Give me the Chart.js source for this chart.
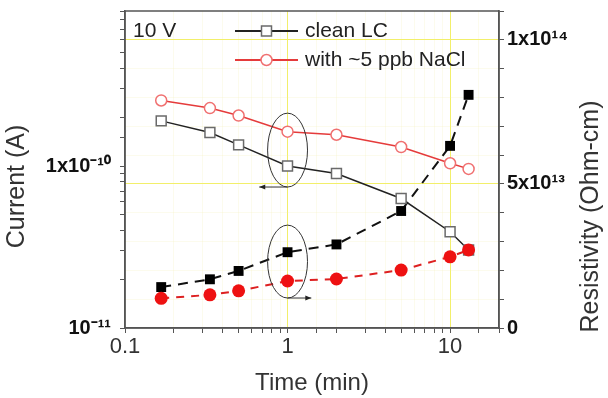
<!DOCTYPE html>
<html>
<head>
<meta charset="utf-8">
<script src="https://cdn.jsdelivr.net/npm/chart.js@4.4.1/dist/chart.umd.min.js"></script>
<style>
  html, body { margin: 0; padding: 0; background: #fff; }
  #wrap { width: 608px; height: 398px; }
</style>
</head>
<body>
<div id="wrap"><canvas id="myChart" width="608" height="398"></canvas></div>
<script>
// time in minutes
var times = [0.167, 0.333, 0.5, 1, 2, 5, 10, 13];

// current (A), left log axis
var cleanCurrent = [1.90e-10, 1.61e-10, 1.35e-10, 1.0e-10, 9.0e-11, 6.3e-11, 3.93e-11, 3.03e-11];
var naclCurrent = [2.54e-10, 2.28e-10, 2.05e-10, 1.63e-10, 1.56e-10, 1.31e-10, 1.04e-10, 9.6e-11];

// resistivity (Ohm-cm), right linear axis
var cleanResistivity = [1.42e13, 1.69e13, 1.98e13, 2.63e13, 2.90e13, 4.06e13, 6.32e13, 8.09e13];
var naclResistivity = [1.03e13, 1.15e13, 1.29e13, 1.63e13, 1.70e13, 2.01e13, 2.47e13, 2.71e13];

var seriesLabels = ['clean LC', 'with ~5 ppb NaCl'];
var voltageLabel = '10 V';

var xTickLabels = { '0.1': '0.1', '1': '1', '10': '10' };
var leftTickLabels = { '-10': '1x10\u207B\u00B9\u2070', '-11': '10\u207B\u00B9\u00B9' };
var rightTickLabels = { '0': '0', '50': '5x10\u00B9\u00B3', '100': '1x10\u00B9\u2074' };

function pairs(ys) {
    return times.map(function(t, i) { return { x: t, y: ys[i] }; });
}

function isDecade(v) {
    var l = Math.log10(v);
    return Math.abs(l - Math.round(l)) < 1e-6;
}

var yellow = '#f2ef6a';
var faint = 'rgba(240, 238, 175, 0.22)';
var fontFamily = '"Liberation Sans", Arial, sans-serif';

// ellipses and arrows around the t = 1 min points
var notes = [
    { axis: 'y', t0: 0.754, t1: 1.327, top: 2.12e-10, bottom: 7.42e-11, arrowTo: 0.67 },
    { axis: 'y1', t0: 0.754, t1: 1.327, top: 3.57e13, bottom: 1.04e13, arrowTo: 1.4 }
];

var extras = {
    id: 'extras',
    afterDatasetsDraw: function(chart) {
        var c = chart.ctx;
        var a = chart.chartArea;
        var xs = chart.scales.x;

        c.save();
        // ellipses + arrows
        c.strokeStyle = '#333';
        c.lineWidth = 1;
        notes.forEach(function(n) {
            var ys = chart.scales[n.axis];
            var x0 = xs.getPixelForValue(n.t0), x1 = xs.getPixelForValue(n.t1);
            var yt = ys.getPixelForValue(n.top), yb = ys.getPixelForValue(n.bottom);
            c.beginPath();
            c.ellipse((x0 + x1) / 2, (yt + yb) / 2, (x1 - x0) / 2, (yb - yt) / 2, 0, 0, Math.PI * 2);
            c.stroke();
            var xc = xs.getPixelForValue(1);
            var xe = xs.getPixelForValue(n.arrowTo);
            c.beginPath();
            c.moveTo(xc, yb);
            c.lineTo(xe, yb);
            c.stroke();
            var dir = xe < xc ? 1 : -1;
            c.fillStyle = '#222';
            c.beginPath();
            c.moveTo(xe, yb);
            c.lineTo(xe + dir * 6, yb - 2.5);
            c.lineTo(xe + dir * 6, yb + 2.5);
            c.closePath();
            c.fill();
        });

        // frame
        c.strokeStyle = '#555';
        c.lineWidth = 1.5;
        c.strokeRect(a.left, a.top, a.right - a.left, a.bottom - a.top);

        // voltage label
        c.fillStyle = '#222';
        c.font = '21px ' + fontFamily;
        c.textBaseline = 'middle';
        c.textAlign = 'left';
        c.fillText(voltageLabel, a.left + 8, a.top + 20);

        // legend
        var lx0 = a.left + 110, lx1 = a.left + 173;
        [0, 1].forEach(function(i) {
            var ds = chart.data.datasets[i];
            var y = a.top + 20 + i * 29;
            c.strokeStyle = ds.borderColor;
            c.lineWidth = 2;
            c.beginPath();
            c.moveTo(lx0, y);
            c.lineTo(lx1, y);
            c.stroke();
            var mx = (lx0 + lx1) / 2;
            c.fillStyle = '#fff';
            c.strokeStyle = ds.pointBorderColor;
            c.lineWidth = 1.5;
            c.beginPath();
            if (ds.pointStyle === 'rect') {
                c.rect(mx - 5, y - 5, 10, 10);
            } else {
                c.arc(mx, y, 5.5, 0, Math.PI * 2);
            }
            c.fill();
            c.stroke();
            c.fillStyle = '#222';
            c.fillText(ds.label, lx1 + 7, y);
        });

        // y axis titles
        c.fillStyle = '#333';
        c.font = '25px ' + fontFamily;
        c.textAlign = 'center';
        c.save();
        c.translate(17, (a.top + a.bottom) / 2 + 17);
        c.rotate(-Math.PI / 2);
        c.fillText('Current (A)', 0, 0);
        c.restore();
        c.save();
        c.translate(591, (a.top + a.bottom) / 2 + 47);
        c.rotate(-Math.PI / 2);
        c.fillText('Resistivity (Ohm-cm)', 0, 0);
        c.restore();
        c.restore();
    }
};

function fixWidth(w) {
    return function(scale) {
        scale.width = w;
        scale.paddingTop = 0;
        scale.paddingBottom = 0;
    };
}

var ctx = document.getElementById('myChart').getContext('2d');
var chartData = {
    datasets: [
        {
            label: seriesLabels[0],
            data: pairs(cleanCurrent),
            yAxisID: 'y',
            order: 1,
            borderColor: '#222222',
            borderWidth: 1.5,
            pointStyle: 'rect',
            pointRadius: 7,
            pointBorderColor: '#6a6a6a',
            pointBackgroundColor: '#ffffff',
            pointBorderWidth: 1.5
        },
        {
            label: seriesLabels[1],
            data: pairs(naclCurrent),
            yAxisID: 'y',
            order: 2,
            borderColor: '#e53b3b',
            borderWidth: 1.5,
            pointStyle: 'circle',
            pointRadius: 5.5,
            pointBorderColor: '#f07070',
            pointBackgroundColor: '#ffffff',
            pointBorderWidth: 1.5
        },
        {
            label: 'clean LC resistivity',
            data: pairs(cleanResistivity),
            yAxisID: 'y1',
            order: 3,
            borderColor: '#111111',
            borderWidth: 2,
            borderDash: [10, 7],
            pointStyle: 'rect',
            pointRadius: 7,
            pointBorderColor: '#000000',
            pointBackgroundColor: '#000000',
            pointBorderWidth: 0
        },
        {
            label: 'NaCl resistivity',
            data: pairs(naclResistivity),
            yAxisID: 'y1',
            order: 0,
            borderColor: '#dd2020',
            borderWidth: 2,
            borderDash: [8, 7],
            pointStyle: 'circle',
            pointRadius: 6.5,
            pointBorderColor: '#ee1111',
            pointBackgroundColor: '#ee1111',
            pointBorderWidth: 0
        }
    ]
};

var myChart = new Chart(ctx, {
    type: 'line',
    data: chartData,
    plugins: [extras],
    options: {
        responsive: false,
        animation: false,
        layout: { padding: { top: 11, left: 0, right: 0, bottom: 0 } },
        plugins: { legend: { display: false }, tooltip: { enabled: false } },
        scales: {
            x: {
                type: 'logarithmic',
                position: 'bottom',
                min: 0.1,
                max: 20,
                afterFit: function(scale) {
                    scale.height = 70;
                    scale.paddingLeft = 0;
                    scale.paddingRight = 0;
                },
                title: {
                    display: true,
                    text: 'Time (min)',
                    color: '#333',
                    font: { family: fontFamily, size: 24 },
                    padding: { top: 0, bottom: 0 }
                },
                ticks: {
                    autoSkip: false,
                    maxRotation: 0,
                    padding: 1,
                    color: '#333',
                    font: { family: fontFamily, size: 22 },
                    callback: function(value) {
                        var v = Number(value);
                        if (!isDecade(v)) return '';
                        return xTickLabels[String(Math.round(v * 10) / 10)] || '';
                    }
                },
                grid: {
                    drawOnChartArea: true,
                    color: function(c) {
                        var v = c.tick && c.tick.value;
                        return (v === 1 || v === 10) ? yellow : faint;
                    },
                    tickColor: '#555',
                    tickLength: 5
                },
                border: { color: '#555', width: 1.5 }
            },
            y: {
                type: 'logarithmic',
                position: 'left',
                min: 1e-11,
                max: 9.06e-10,
                afterFit: fixWidth(125),
                ticks: {
                    autoSkip: false,
                    padding: 9,
                    color: '#111',
                    font: { family: fontFamily, size: 20, weight: 'bold' },
                    callback: function(value) {
                        var v = Number(value);
                        if (!isDecade(v)) return '';
                        return leftTickLabels[String(Math.round(Math.log10(v)))] || '';
                    }
                },
                grid: { drawOnChartArea: false, tickColor: '#555', tickLength: 5 },
                border: { color: '#555', width: 1.5 }
            },
            y1: {
                type: 'linear',
                position: 'right',
                min: 0,
                max: 1.1e14,
                afterFit: fixWidth(109),
                ticks: {
                    stepSize: 1e13,
                    autoSkip: false,
                    padding: 3,
                    color: '#111',
                    font: { family: fontFamily, size: 20, weight: 'bold' },
                    callback: function(value) {
                        var k = String(Math.round(Number(value) / 1e12));
                        return rightTickLabels[k] || '';
                    }
                },
                grid: {
                    drawOnChartArea: true,
                    color: function(c) {
                        var v = c.tick && c.tick.value;
                        if (v === 5e13 || v === 1e14) return yellow;
                        if (v === 0 || v === 1.1e14) return 'rgba(0,0,0,0)';
                        return faint;
                    },
                    tickColor: '#555',
                    tickLength: 5
                },
                border: { color: '#555', width: 1.5 }
            }
        }
    }
});
</script>
</body>
</html>
